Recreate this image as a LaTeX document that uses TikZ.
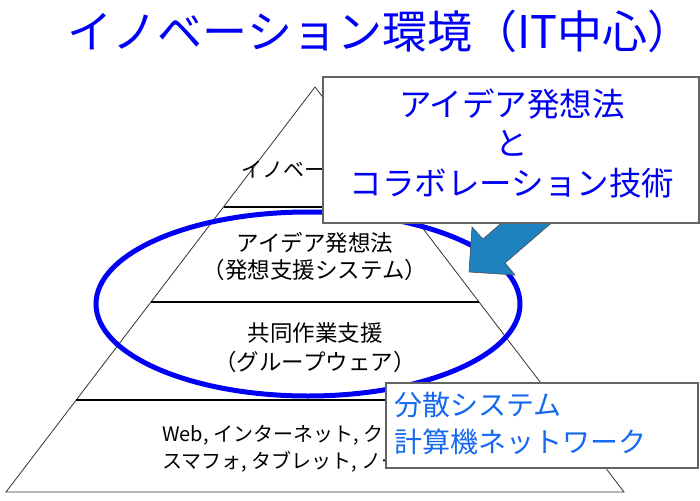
\documentclass[tikz,border=0pt]{standalone}
\usepackage{fontspec}
\setmainfont{Noto Sans CJK JP}
\usepackage{tikz}
\usetikzlibrary{calc}

\definecolor{TitleBlue}{RGB}{0,0,245}
\definecolor{NetBlue}{RGB}{20,105,240}
\definecolor{ArrowBlue}{RGB}{31,130,192}
\definecolor{BoxGray}{RGB}{100,100,100}

\tikzset{
    layertext/.style={align=center,inner sep=0pt},
    divider/.style={line width=2.5pt,black},
    callout/.style={draw=BoxGray,line width=1.3pt,fill=white,inner sep=0pt}
}

\begin{document}
\begin{tikzpicture}[x=1pt,y=-1pt]
    \useasboundingbox (0,0) rectangle (700,500);

    \node[TitleBlue,inner sep=0pt,font=\fontsize{45}{50}\selectfont] (title) at (380,31)
        {イノベーション環境（IT中心）};

    \coordinate (apex) at (315,87);
    \coordinate (bl) at (6,492);
    \coordinate (br) at (624,492);
    \draw[line width=0.8pt,black!80] (apex) -- (bl) -- (br) -- cycle;
    \foreach \t in {0.296,0.531,0.773}
        \draw[divider] ($(apex)!\t!(bl)$) -- ($(apex)!\t!(br)$);

    \node[layertext,font=\fontsize{21}{25}\selectfont] (innov) at (315,170)
        {イノベーション};
    \node[layertext,font=\fontsize{22.5}{27}\selectfont] (idea) at (315,256)
        {アイデア発想法\\（発想支援システム）};
    \node[layertext,font=\fontsize{22.5}{29}\selectfont] (group) at (315,347.5)
        {共同作業支援\\（グループウェア）};
    \node[layertext,align=left,anchor=west,font=\fontsize{20}{27}\selectfont] (infra) at (162,448.5)
        {Web, インターネット, クラウド\\スマフォ, タブレット, ノートPC};

    \draw[TitleBlue,line width=5pt] (308,304) ellipse (212 and 92);

    \filldraw[fill=ArrowBlue,draw=black!70,line width=0.6pt]
        (556,176) -- (578,200) -- (505,263) -- (515,275) -- (469,272)
        -- (472,227) -- (483,239) -- cycle;

    \node[callout,minimum width=376pt,minimum height=146pt] (ideabox) at (511,150) {};
    \node[layertext,TitleBlue,font=\fontsize{32.5}{39.5}\selectfont] (ideatxt) at (512,143)
        {アイデア発想法\\と\\コラボレーション技術};

    \node[callout,minimum width=312pt,minimum height=85pt] (netbox) at (542,425.5) {};
    \node[layertext,align=left,anchor=west,NetBlue,font=\fontsize{28}{37}\selectfont] (nettxt) at (394,423.5)
        {分散システム\\計算機ネットワーク};
\end{tikzpicture}
\end{document}
